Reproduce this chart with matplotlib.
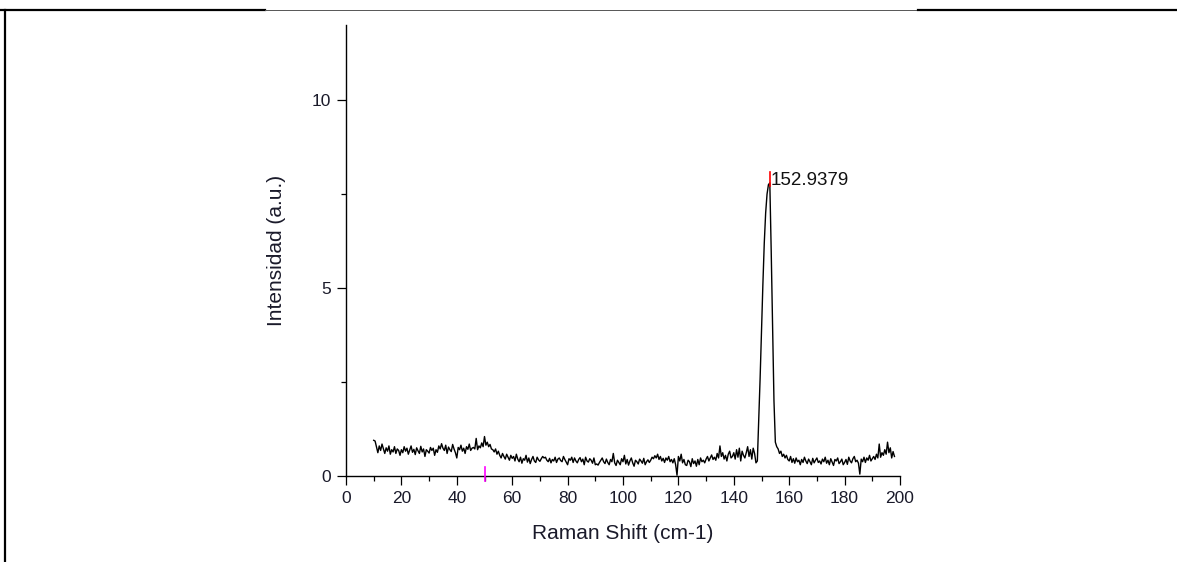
import numpy as np
import matplotlib
matplotlib.use("Agg")
import matplotlib.pyplot as plt
from matplotlib.lines import Line2D

plt.rcParams['font.family'] = ['Liberation Sans', 'DejaVu Sans']

# Raman spectrum, sampled every 0.5 cm-1 from 10 to 198 cm-1
shift_start = 10.0
shift_end = 198.0
intensity = [
    0.95, 0.93, 0.78, 0.62, 0.80, 0.68, 0.85, 0.72, 0.60, 0.75, 0.66, 0.80, 0.58, 0.70, 0.64, 0.78, 0.60, 0.72, 0.68, 0.55,
    0.70, 0.62, 0.78, 0.66, 0.74, 0.58, 0.69, 0.80, 0.63, 0.71, 0.57, 0.75, 0.67, 0.60, 0.79, 0.64, 0.72, 0.52, 0.70, 0.66,
    0.61, 0.76, 0.68, 0.74, 0.55, 0.70, 0.63, 0.80, 0.72, 0.86, 0.74, 0.68, 0.82, 0.60, 0.77, 0.70, 0.65, 0.84, 0.72, 0.62,
    0.48, 0.76, 0.70, 0.82, 0.66, 0.74, 0.60, 0.78, 0.71, 0.85, 0.68, 0.74, 0.76, 0.72, 1.00, 0.70, 0.80, 0.75, 0.88, 0.78,
    1.05, 0.82, 0.90, 0.78, 0.84, 0.72, 0.70, 0.64, 0.72, 0.58, 0.66, 0.55, 0.48, 0.60, 0.52, 0.45, 0.58, 0.50, 0.42, 0.55,
    0.47, 0.52, 0.40, 0.58, 0.45, 0.38, 0.50, 0.34, 0.46, 0.42, 0.55, 0.37, 0.48, 0.33, 0.44, 0.52, 0.40, 0.36, 0.50, 0.43,
    0.39, 0.46, 0.52, 0.48, 0.50, 0.42, 0.38, 0.47, 0.35, 0.44, 0.40, 0.50, 0.36, 0.45, 0.48, 0.41, 0.38, 0.52, 0.44, 0.37,
    0.30, 0.46, 0.42, 0.50, 0.36, 0.48, 0.40, 0.35, 0.44, 0.49, 0.38, 0.45, 0.30, 0.50, 0.40, 0.37, 0.46, 0.42, 0.34, 0.48,
    0.30, 0.32, 0.29, 0.36, 0.42, 0.48, 0.38, 0.33, 0.45, 0.36, 0.30, 0.44, 0.38, 0.60, 0.35, 0.28, 0.42, 0.36, 0.30, 0.46,
    0.38, 0.55, 0.32, 0.44, 0.29, 0.40, 0.48, 0.35, 0.26, 0.42, 0.38, 0.32, 0.45, 0.40, 0.34, 0.47, 0.30, 0.38, 0.43, 0.36,
    0.42, 0.50, 0.46, 0.54, 0.48, 0.58, 0.44, 0.52, 0.40, 0.47, 0.36, 0.48, 0.42, 0.52, 0.38, 0.44, 0.35, 0.46, 0.30, 0.02,
    0.52, 0.40, 0.58, 0.35, 0.44, 0.30, 0.28, 0.42, 0.38, 0.25, 0.46, 0.33, 0.40, 0.26, 0.44, 0.30, 0.48, 0.38, 0.42, 0.35,
    0.45, 0.52, 0.40, 0.48, 0.56, 0.44, 0.50, 0.42, 0.60, 0.48, 0.80, 0.52, 0.62, 0.45, 0.55, 0.40, 0.58, 0.66, 0.48, 0.52,
    0.62, 0.45, 0.70, 0.50, 0.74, 0.40, 0.66, 0.55, 0.48, 0.62, 0.78, 0.52, 0.70, 0.45, 0.74, 0.60, 0.35, 0.40, 1.50, 2.60,
    3.90, 5.10, 6.20, 7.00, 7.50, 7.75, 7.80, 6.00, 4.00, 2.00, 0.90, 0.78, 0.72, 0.60, 0.66, 0.52, 0.58, 0.48, 0.55, 0.44,
    0.40, 0.52, 0.36, 0.46, 0.34, 0.48, 0.38, 0.42, 0.30, 0.44, 0.36, 0.50, 0.40, 0.33, 0.45, 0.38, 0.30, 0.47, 0.35, 0.42,
    0.48, 0.36, 0.40, 0.32, 0.45, 0.38, 0.50, 0.34, 0.42, 0.30, 0.46, 0.37, 0.28, 0.44, 0.40, 0.48, 0.33, 0.38, 0.45, 0.30,
    0.36, 0.44, 0.31, 0.50, 0.40, 0.35, 0.46, 0.52, 0.38, 0.42, 0.34, 0.05, 0.45, 0.38, 0.50, 0.36, 0.48, 0.42, 0.55, 0.40,
    0.46, 0.52, 0.44, 0.58, 0.48, 0.85, 0.50, 0.62, 0.55, 0.70, 0.58, 0.90, 0.62, 0.75, 0.48, 0.65, 0.52,
]
shift = np.linspace(shift_start, shift_end, len(intensity))

peak_x = 152.9379
peak_y_low = 7.72
peak_y_high = 8.08
peak_label = "152.9379"
marker_x = 50
marker_y_low = -0.13
marker_y_high = 0.24

x_ticks = [0, 20, 40, 60, 80, 100, 120, 140, 160, 180, 200]
y_ticks = [0, 5, 10]

W, H = 1177, 562
fig = plt.figure(figsize=(W / 100, H / 100), dpi=100)
ax = fig.add_axes([346 / W, 1 - 476 / H, (900 - 346) / W, (476 - 25) / H])

ax.plot(shift, intensity, color='black', lw=1.0)
ax.plot([peak_x, peak_x], [peak_y_low, peak_y_high], color='red', lw=1.2)
ax.text(peak_x + 0.2, (peak_y_low + peak_y_high) / 2 - 0.05, peak_label,
        fontsize=13.5, va='center', ha='left', color='#111111')
ax.plot([marker_x, marker_x], [marker_y_low, marker_y_high], color='magenta',
        lw=1.2, clip_on=False, zorder=5)

ax.set_xlim(0, 200)
ax.set_ylim(0, 12)
ax.set_xticks(x_ticks)
ax.set_yticks(y_ticks)
ax.set_xticks(np.arange(0, 201, 10), minor=True)
ax.set_yticks([2.5, 7.5], minor=True)
ax.tick_params(which='major', direction='out', length=6.5, width=0.9,
               labelsize=12.5, labelcolor='#1a1a2a', pad=4)
ax.tick_params(which='minor', direction='out', length=3.5, width=0.9)
for s in ['top', 'right']:
    ax.spines[s].set_visible(False)
for s in ['left', 'bottom']:
    ax.spines[s].set_linewidth(1.0)

ax.set_xlabel("Raman Shift (cm-1)", fontsize=15, color='#1a1a2a', labelpad=13)
ax.set_ylabel("Intensidad (a.u.)", fontsize=15, color='#1a1a2a', labelpad=18.5)

# page frame lines
fig.add_artist(Line2D([0, 265 / W], [1 - 10 / H, 1 - 10 / H], color='black', lw=1.6))
fig.add_artist(Line2D([265 / W, 918 / W], [1 - 9.5 / H, 1 - 9.5 / H], color='#555555', lw=0.7))
fig.add_artist(Line2D([918 / W, 1], [1 - 10 / H, 1 - 10 / H], color='black', lw=1.6))
fig.add_artist(Line2D([4.5 / W, 4.5 / W], [0, 1 - 10 / H], color='black', lw=1.6))

fig.savefig("out.png", dpi=100)
